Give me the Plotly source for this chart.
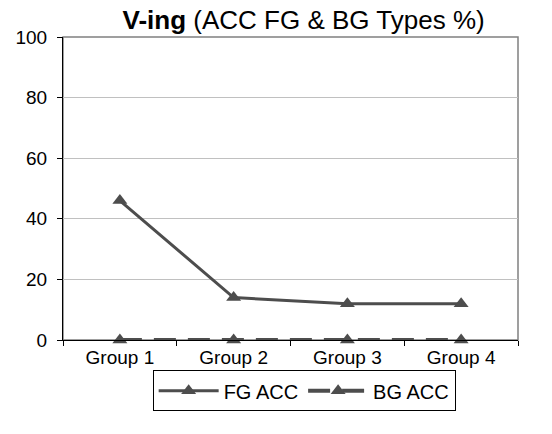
import plotly.graph_objects as go

# Chart data
groups = ["Group 1", "Group 2", "Group 3", "Group 4"]
fg_acc = [46, 14, 12, 12]
bg_acc = [0, 0, 0, 0]
y_ticks = [0, 20, 40, 60, 80, 100]

series_color = "#4d4d4d"
font_family = "Liberation Sans, Arial, sans-serif"

fig = go.Figure()

fig.add_trace(go.Scatter(
    x=groups, y=fg_acc, name="FG ACC", mode="lines+markers",
    line=dict(color=series_color, width=3),
    marker=dict(symbol="triangle-up", size=13, color=series_color),
    cliponaxis=False,
))
fig.add_trace(go.Scatter(
    x=groups, y=bg_acc, name="BG ACC", mode="lines+markers",
    line=dict(color=series_color, width=4, dash="22px,12px"),
    marker=dict(symbol="triangle-up", size=13, color=series_color),
    cliponaxis=False,
))

# Grey frame on the top and right sides of the plot area
fig.add_shape(type="rect", xref="paper", yref="paper", x0=0, x1=1, y0=0, y1=1,
              line=dict(color="#808080", width=1.5), layer="below")

fig.update_layout(
    width=552, height=434,
    margin=dict(l=63, r=34, t=37, b=94),
    paper_bgcolor="white", plot_bgcolor="white",
    font=dict(family=font_family, size=19, color="black"),
    title=dict(
        text="<b>V-ing</b> (ACC FG & BG Types %)",
        x=0.55, xanchor="center", y=0.954, yanchor="middle",
        font=dict(size=26, family=font_family, color="black"),
    ),
    showlegend=True,
    legend=dict(
        orientation="h", x=0.53, xanchor="center", y=-0.1, yanchor="top",
        bordercolor="black", borderwidth=1, bgcolor="white",
        font=dict(size=20), itemwidth=60, tracegroupgap=0,
    ),
    xaxis=dict(
        type="category", range=[-0.5, 3.5],
        showline=True, linecolor="black", linewidth=1,
        ticks="outside", tickson="boundaries", ticklen=5, tickcolor="black",
        showgrid=False, zeroline=False,
    ),
    yaxis=dict(
        range=[0, 100], tickvals=y_ticks,
        showline=True, linecolor="black", linewidth=1,
        ticks="outside", ticklen=5, tickcolor="black", ticklabelstandoff=6,
        showgrid=True, gridcolor="#c0c0c0", gridwidth=1,
        zeroline=False,
    ),
)

fig.write_html("out.html")
